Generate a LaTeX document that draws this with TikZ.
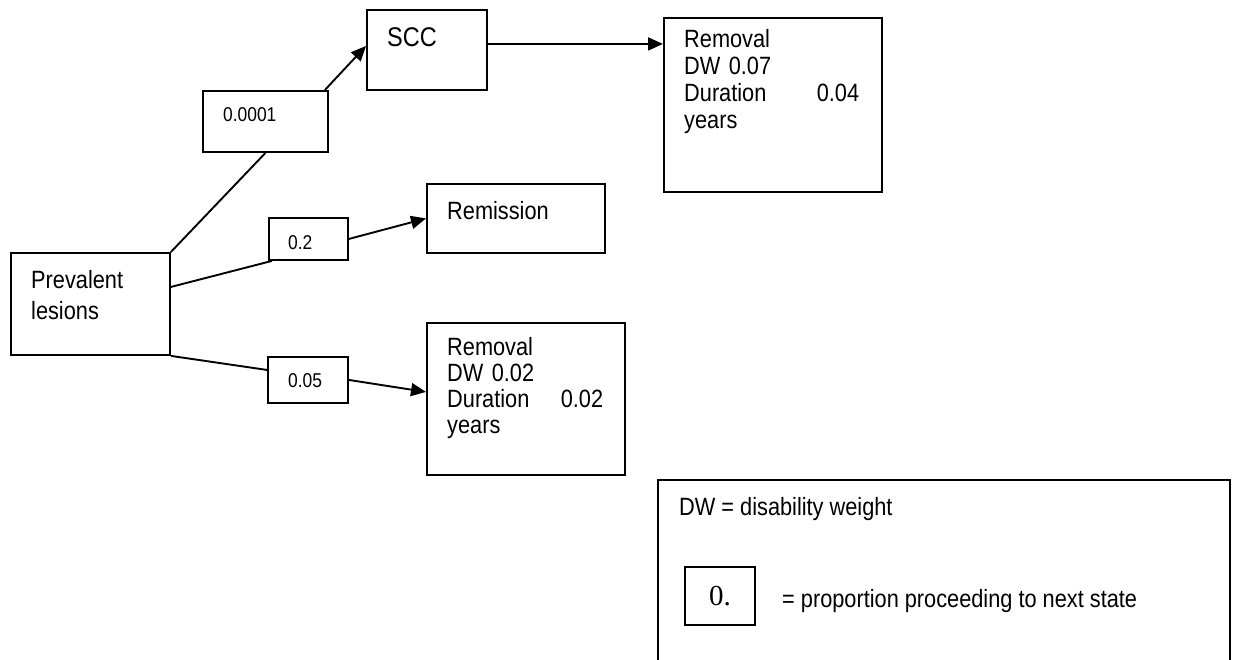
\documentclass[tikz,border=0pt]{standalone}
\usepackage{fontspec}
\setmainfont{Liberation Sans}[FakeStretch=0.87]
\newfontfamily\serifnum{Liberation Serif}
\usetikzlibrary{arrows.meta,calc}
\tikzset{
  box/.style={draw=black, line width=1.9pt, inner sep=0pt, anchor=north west},
  txt/.style={inner sep=0pt, anchor=north west, align=left, font=\fontsize{25}{26.7}\selectfont},
  lbl/.style={inner sep=0pt, anchor=north west, font=\fontsize{20}{22}\selectfont},
  conn/.style={draw=black, line width=1.9pt},
  arr/.style={conn, -{Triangle[length=15pt,width=13pt]}}
}
\begin{document}
\begin{tikzpicture}[x=1pt,y=-1pt]
\useasboundingbox[fill=white] (0,0) rectangle (1234,660);
% boxes
\node[box, minimum width=159pt, minimum height=102pt] (prev) at (10,252) {};
\node[box, minimum width=125pt, minimum height=61pt] (p1) at (202,90) {};
\node[box, minimum width=120pt, minimum height=80pt] (scc) at (366,9) {};
\node[box, minimum width=218pt, minimum height=174pt] (rem1) at (663,17) {};
\node[box, minimum width=79pt, minimum height=42pt] (p2) at (268,217) {};
\node[box, minimum width=178pt, minimum height=69pt] (remis) at (426,183) {};
\node[box, minimum width=80pt, minimum height=46pt] (p3) at (267,356) {};
\node[box, minimum width=198pt, minimum height=152pt] (rem2) at (426,322) {};
% texts
\node[txt, font=\fontsize{25}{31}\selectfont] (tprev) at (31,270) {Prevalent\\lesions};
\node[txt, font=\fontsize{27}{30}\selectfont] (tscc) at (387,27) {SCC};
\node[lbl] (tp1) at (223,107) {0.0001};
\node[lbl] (tp2) at (288,235) {0.2};
\node[lbl] (tp3) at (288,373) {0.05};
\node[txt] (tremis) at (447,201) {Remission};
\node[txt, text width=175pt, font=\fontsize{25}{27}\selectfont] (trem1) at (684,29) {Removal\\DW 0.07\\Duration\hfill 0.04\\years};
\node[txt, text width=156pt, font=\fontsize{25}{26}\selectfont] (trem2) at (447,337) {Removal\\DW 0.02\\Duration\hfill 0.02\\years};
% connectors
\draw[conn] (prev.north east) -- (p1.south);
\draw[arr] ([xshift=-4pt]p1.north east) -- ([yshift=4pt]scc.west);
\draw[arr] ([yshift=6pt]scc.east) -- ([yshift=6pt]scc.east -| rem1.west);
\draw[conn] ([yshift=17pt]prev.east) -- ([xshift=4pt]p2.south west);
\draw[arr] (p2.east) -- (remis.west);
\draw[conn] (prev.south east) -- ([yshift=10pt]p3.west);
\draw[arr] (p3.east) -- ([yshift=7pt]rem2.west);
% legend
\coordinate (lgA) at (658,670);
\coordinate (lgB) at (658,480);
\coordinate (lgC) at (1230,480);
\coordinate (lgD) at (1230,670);
\draw[conn] (lgA) -- (lgB) -- (lgC) -- (lgD);
\node[txt] (tdw) at (679,497) {DW = disability weight};
\node[box, minimum width=70pt, minimum height=58pt, font=\serifnum\fontsize{29}{32}\selectfont] (key) at (684,566) {0.};
\node[txt, anchor=base west] (tkey) at (782,607) {= proportion proceeding to next state};
\end{tikzpicture}
\end{document}
